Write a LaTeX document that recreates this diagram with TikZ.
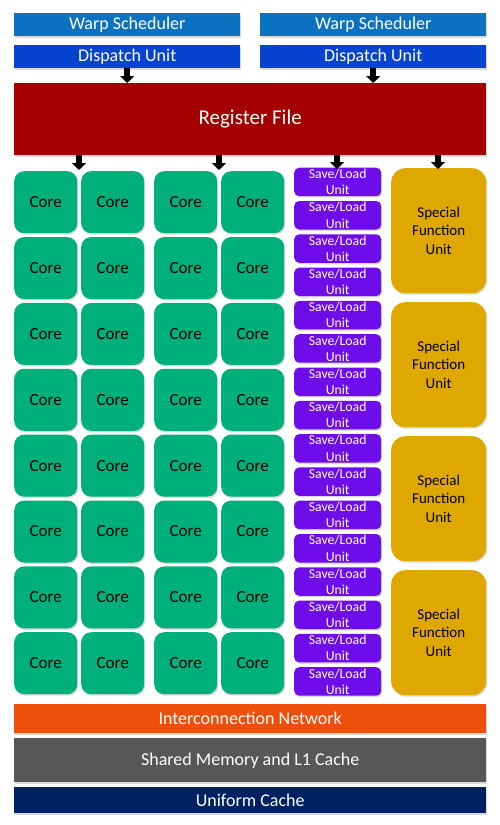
\documentclass[tikz,border=0pt]{standalone}
\usepackage{fontspec}
\setmainfont{Carlito}
\usetikzlibrary{arrows.meta,shadows}
\definecolor{warpblue}{HTML}{0B72C2}
\definecolor{dispblue}{HTML}{0543D0}
\definecolor{regred}{HTML}{A50000}
\definecolor{coregreen}{HTML}{00B07A}
\definecolor{slpurple}{HTML}{6E0DEA}
\definecolor{sfugold}{HTML}{DFA800}
\definecolor{netorange}{HTML}{EE500C}
\definecolor{memgray}{HTML}{575757}
\definecolor{cachenavy}{HTML}{002262}
\begin{document}
\begin{tikzpicture}[x=1pt, y=-1pt,
	box/.style={anchor=north west, inner sep=0pt, align=center,
		drop shadow={shadow xshift=1pt, shadow yshift=-1.5pt, opacity=0.3}},
	bar/.style={box, text=white, minimum width=226pt, minimum height=23pt,
		font=\fontsize{18}{21}\selectfont},
	wide/.style={box, text=white, minimum width=472pt,
		font=\fontsize{18}{21}\selectfont},
	core/.style={box, fill=coregreen, rounded corners=10pt,
		minimum width=63pt, minimum height=62pt, font=\fontsize{17}{20}\selectfont},
	slunit/.style={box, fill=slpurple, text=white, rounded corners=5pt,
		minimum width=87pt, minimum height=28.5pt, font=\fontsize{13.7}{16.2}\selectfont},
	sfu/.style={box, fill=sfugold, rounded corners=14pt,
		minimum width=95pt, minimum height=125pt, font=\fontsize{15}{18.3}\selectfont},
	fatarrow/.style={line width=6.5pt, -{Triangle[width=14pt,length=7pt]}}]
	\useasboundingbox (0,0) rectangle (500,825);

	%schedulers and dispatch
	\node[bar, fill=warpblue] (warpL) at (14,13) {Warp Scheduler};
	\node[bar, fill=warpblue] (warpR) at (260,13) {Warp Scheduler};
	\node[bar, fill=dispblue] (dispL) at (14,45) {Dispatch Unit};
	\node[bar, fill=dispblue] (dispR) at (260,45) {Dispatch Unit};

	\node[wide, fill=regred, minimum height=72pt, font=\fontsize{21}{24}\selectfont]
		(regfile) at (14,83) {Register File};

	\draw[fatarrow] (dispL.south) -- (regfile.north -| dispL.south);
	\draw[fatarrow] (dispR.south) -- (regfile.north -| dispR.south);

	%cores
	\foreach \c/\x in {1/14, 2/81, 3/154, 4/221}{
		\foreach \r in {0,...,7}{
			\node[core] (core-\r-\c) at (\x, 171+\r*65.86) {Core};
		}
	}

	%save/load units
	\foreach \r in {0,...,15}{
		\node[slunit] (sl-\r) at (294, 167.5+\r*33.3) {Save/Load\\Unit};
	}

	%special function units
	\foreach \r in {0,...,3}{
		\node[sfu] (sfu-\r) at (391, 168+\r*134) {Special\\Function\\Unit};
	}

	%feeds from the register file
	\coordinate (inA) at (79,170);
	\coordinate (inB) at (219,170);
	\coordinate (inC) at (337,169);
	\coordinate (inD) at (438,169);
	\foreach \t in {inA, inB, inC, inD}{
		\draw[fatarrow] (regfile.south -| \t) -- (\t);
	}

	%memory side
	\node[wide, fill=netorange, minimum height=29pt] (icnet) at (14,704) {Interconnection Network};
	\node[wide, fill=memgray, minimum height=44pt] (shmem) at (14,738) {Shared Memory and L1 Cache};
	\node[wide, fill=cachenavy, minimum height=26pt] (ucache) at (14,787) {Uniform Cache};
\end{tikzpicture}
\end{document}
